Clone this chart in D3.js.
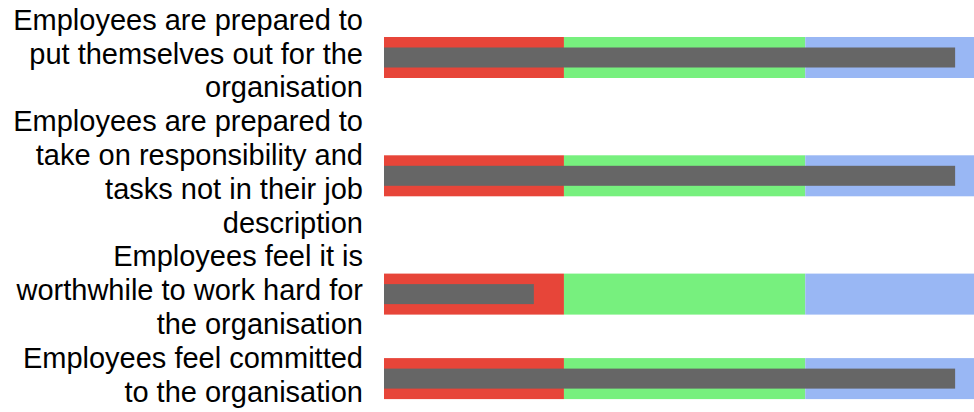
<!DOCTYPE html>
<html>
<head>
<meta charset="utf-8">
<script src="https://cdn.jsdelivr.net/npm/d3@7"></script>
<style>
  html, body { margin: 0; padding: 0; background: #fff; }
  svg { display: block; }
  text { font-family: "Liberation Sans", Arial, sans-serif; }
</style>
</head>
<body>
<script>
// ---- data ----
const labels = [
  ["Employees are prepared to", "put themselves out for the", "organisation"],
  ["Employees are prepared to", "take on responsibility and", "tasks not in their job", "description"],
  ["Employees feel it is", "worthwhile to work hard for", "the organisation"],
  ["Employees feel committed", "to the organisation"]
];
const rangeLow = [30.5, 30.5, 30.5, 30.5];    // red band end
const rangeMid = [71.4, 71.4, 71.4, 71.4];    // green band end
const rangeHigh = [100, 100, 100, 100];       // blue band end
const measures = [96.8, 96.8, 25.4, 96.8];    // grey bar values
const domainMax = 100;

// ---- layout ----
const W = 974, H = 412;
const lineH = 33.8, topPad = 6.8;
const labelX = 363;
const x = d3.scaleLinear().domain([0, domainMax]).range([384, 974]);

// vertical position from cumulative line count
const cum = [];
let acc = 0;
labels.forEach(l => { cum.push(acc + l.length / 2); acc += l.length; });
const yLines = d3.scaleLinear().domain([0, acc]).range([topPad, topPad + acc * lineH]);

const rows = labels.map((l, i) => ({
  lines: l, center: yLines(cum[i]),
  bands: [[0, rangeLow[i], "#e74539"], [rangeLow[i], rangeMid[i], "#77f07e"], [rangeMid[i], rangeHigh[i], "#99b7f4"]],
  measure: measures[i]
}));

const svg = d3.select("body").append("svg").attr("width", W).attr("height", H);

const g = svg.selectAll("g.row").data(rows).join("g").attr("class", "row");

g.selectAll("rect.band").data(d => d.bands.map(b => ({ b, c: d.center }))).join("rect")
  .attr("class", "band")
  .attr("x", d => x(d.b[0]))
  .attr("width", d => x(d.b[1]) - x(d.b[0]))
  .attr("y", d => d.c - 20.5)
  .attr("height", 41)
  .attr("fill", d => d.b[2]);

g.append("rect")
  .attr("x", x(0))
  .attr("width", d => x(d.measure) - x(0))
  .attr("y", d => d.center - 10)
  .attr("height", 20)
  .attr("fill", "#666666");

g.append("text")
  .attr("text-anchor", "end")
  .attr("font-size", "29px")
  .attr("fill", "#000")
  .selectAll("tspan").data(d => d.lines.map((t, j) => ({ t, y: d.center + (j - (d.lines.length - 1) / 2) * lineH + 6 })))
  .join("tspan")
  .attr("x", labelX)
  .attr("y", d => d.y)
  .text(d => d.t);
</script>
</body>
</html>
